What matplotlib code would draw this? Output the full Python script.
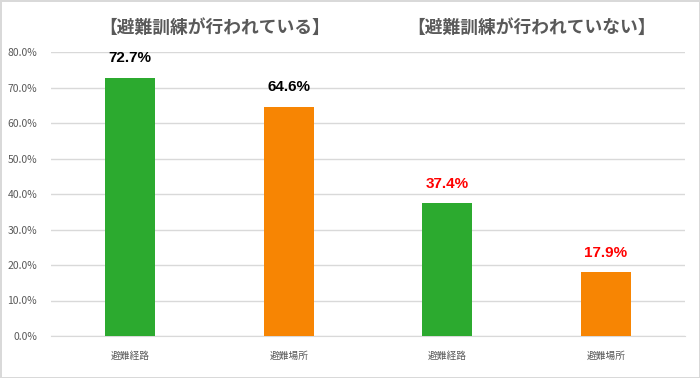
import matplotlib.pyplot as plt
import numpy as np

plt.rcParams['font.family'] = ['Noto Sans CJK JP', 'DejaVu Sans']

categories = ['避難経路', '避難場所', '避難経路', '避難場所']
values = [72.7, 64.6, 37.4, 17.9]
colors = ['#2caa2f', '#f78503', '#2caa2f', '#f78503']
label_colors = ['black', 'black', 'red', 'red']
group_titles = ['【避難訓練が行われている】', '【避難訓練が行われていない】']
yticks = [0, 10, 20, 30, 40, 50, 60, 70, 80]

fig = plt.figure(figsize=(7, 3.78), dpi=100, edgecolor='#d9d9d9', linewidth=2)
ax = fig.add_axes([51/700, 42/378, 634/700, 284/378])

x = np.arange(len(values))
bars = ax.bar(x, values, width=0.315, color=colors, zorder=3)

for xi, v, c in zip(x, values, label_colors):
    ax.annotate(f'{v:.1f}%', (xi, v), xytext=(0, 9), textcoords='offset points',
                ha='center', va='bottom', fontsize=11, fontweight='bold', color=c,
                family=['Liberation Sans', 'DejaVu Sans'])

for i, t in enumerate(group_titles):
    ax.text(2*i + 0.53, 86.8, t, ha='center', va='center', fontsize=12.8,
            fontweight='bold', color='#595959', clip_on=False)

ax.set_xlim(-0.5, 3.5)
ax.set_ylim(0, 80)
ax.set_yticks(yticks)
ax.set_yticklabels([f'{t:.1f}%' for t in yticks])
ax.set_xticks(x)
ax.set_xticklabels(categories)
ax.tick_params(axis='y', length=0, labelsize=7.5, labelcolor='#595959', pad=10)
ax.tick_params(axis='x', length=0, labelsize=7, labelcolor='#595959', pad=11)
ax.grid(axis='y', color='#d9d9d9', linewidth=1, zorder=0)
for s in ['top', 'right', 'left']:
    ax.spines[s].set_visible(False)
ax.spines['bottom'].set_color('#d9d9d9')

fig.savefig('out.png', dpi=100, edgecolor=fig.get_edgecolor())
